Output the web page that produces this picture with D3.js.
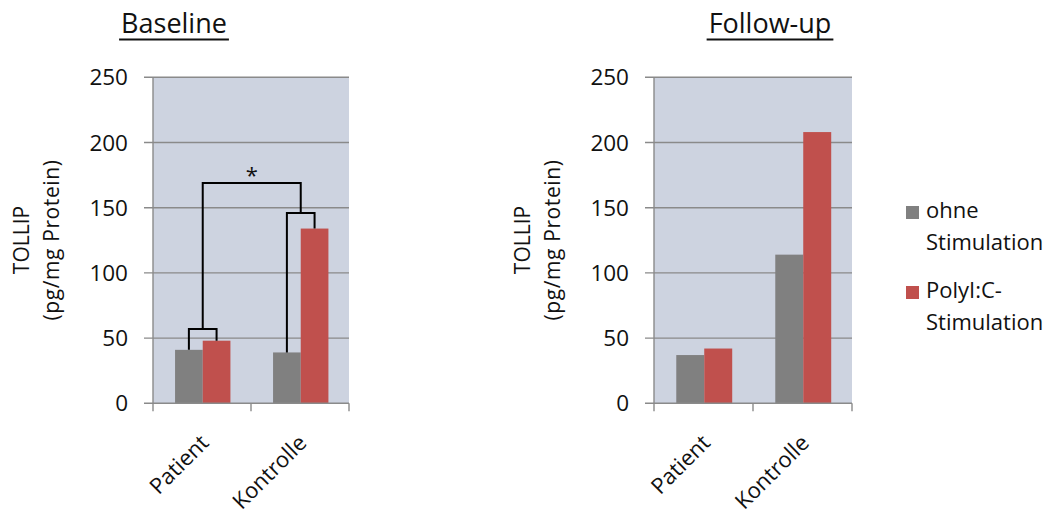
<!DOCTYPE html>
<html>
<head>
<meta charset="utf-8">
<script src="https://cdn.jsdelivr.net/npm/d3@7"></script>
<style>
  html, body { margin: 0; padding: 0; background: #ffffff; }
  svg { display: block; }
  text { font-family: "Open Sans", "Liberation Sans", sans-serif; fill: #111; }
</style>
</head>
<body>
<svg id="chart" width="1047" height="518"></svg>
<script>
// TOLLIP concentration (pg/mg protein), without and with PolyI:C stimulation
const categories = ["Patient", "Kontrolle"];
const seriesNames = ["ohne Stimulation", "PolyI:C-Stimulation"];
const legendLines = [["ohne", "Stimulation"], ["PolyI:C-", "Stimulation"]];
const baselineOhne = [41, 39];
const baselinePolyIC = [48, 134];
const followupOhne = [37, 114];
const followupPolyIC = [42, 208];
const yTicks = [0, 50, 100, 150, 200, 250];
const panelTitles = ["Baseline", "Follow-up"];
// significance bracket heights (value units) for the baseline panel
const bracketPatient = 57;
const bracketKontrolle = 146;
const bracketBetween = 169;
const significanceLabel = "*";

const colors = ["#808080", "#c0504d"];
const plotBg = "#cdd3e0";
const gridColor = "#8a8a8a";

const svg = d3.select("#chart");

const panels = [
  { title: panelTitles[0], values: [baselineOhne, baselinePolyIC], x0: 153, x1: 349, titleX: 174, yLabelX: 0, brackets: true },
  { title: panelTitles[1], values: [followupOhne, followupPolyIC], x0: 654, x1: 852, titleX: 770, yLabelX: 501, brackets: false }
];

const y = d3.scaleLinear().domain([0, 250]).range([403.3, 77.3]);

panels.forEach(p => {
  const g = svg.append("g");

  // plot area background
  g.append("rect")
    .attr("x", p.x0).attr("y", y(250))
    .attr("width", p.x1 - p.x0).attr("height", y(0) - y(250))
    .attr("fill", plotBg);

  // horizontal gridlines (with outside tick stubs)
  g.selectAll("line.grid").data(yTicks.filter(t => t > 0)).join("line")
    .attr("x1", p.x0 - 9).attr("x2", p.x1)
    .attr("y1", d => y(d)).attr("y2", d => y(d))
    .attr("stroke", gridColor).attr("stroke-width", 1.4);

  const x = d3.scaleBand().domain(categories).range([p.x0, p.x1]).padding(0);
  const inner = d3.scaleBand().domain(d3.range(seriesNames.length))
    .range([x.bandwidth() * 0.225, x.bandwidth() * 0.79]).padding(0);

  // bars
  categories.forEach((c, ci) => {
    p.values.forEach((vals, si) => {
      g.append("rect")
        .attr("x", x(c) + inner(si))
        .attr("y", y(vals[ci]))
        .attr("width", inner.bandwidth())
        .attr("height", y(0) - y(vals[ci]))
        .attr("fill", colors[si]);
    });
  });

  // y axis line
  g.append("line")
    .attr("x1", p.x0).attr("x2", p.x0)
    .attr("y1", y(250)).attr("y2", y(0))
    .attr("stroke", gridColor).attr("stroke-width", 1.4);
  // x axis line
  g.append("line")
    .attr("x1", p.x0 - 9).attr("x2", p.x1)
    .attr("y1", y(0)).attr("y2", y(0))
    .attr("stroke", gridColor).attr("stroke-width", 1.4);
  // category boundary ticks
  const bounds = categories.map(c => x(c)).concat([p.x1]);
  g.selectAll("line.xt").data(bounds).join("line")
    .attr("x1", d => d).attr("x2", d => d)
    .attr("y1", y(0)).attr("y2", y(0) + 8)
    .attr("stroke", gridColor).attr("stroke-width", 1.4);

  // y tick labels
  g.selectAll("text.yt").data(yTicks).join("text")
    .attr("x", p.x0 - 25).attr("y", d => y(d) + 8)
    .attr("text-anchor", "end")
    .attr("font-size", 22.5)
    .text(d => d);

  // category labels
  categories.forEach(c => {
    const cx = x(c) + x.bandwidth() / 2;
    g.append("text")
      .attr("transform", `translate(${cx + 8},${y(0) + 41}) rotate(-45)`)
      .attr("text-anchor", "end")
      .attr("font-size", 22)
      .text(c);
  });

  // y axis title (two lines)
  const yl = g.append("g").attr("transform", `translate(${p.yLabelX},240) rotate(-90)`);
  yl.append("text").attr("x", 0).attr("y", 29).attr("text-anchor", "middle")
    .attr("font-size", 21).text("TOLLIP");
  yl.append("text").attr("x", 0).attr("y", 59).attr("text-anchor", "middle")
    .attr("font-size", 21).attr("letter-spacing", 0.6).text("(pg/mg Protein)");

  // panel title, underlined
  const t = g.append("text")
    .attr("x", p.titleX).attr("y", 33)
    .attr("text-anchor", "middle")
    .attr("font-size", 27)
    .text(p.title);
  const tw = t.node().getComputedTextLength();
  g.append("line")
    .attr("x1", p.titleX - tw / 2 - 2).attr("x2", p.titleX + tw / 2 + 2)
    .attr("y1", 39.5).attr("y2", 39.5)
    .attr("stroke", "#111").attr("stroke-width", 2);

  // significance brackets
  if (p.brackets) {
    const barCenter = (ci, si) => x(categories[ci]) + inner(si) + inner.bandwidth() / 2;
    const path = d3.path();
    // Patient: ohne vs PolyI:C
    const pL = barCenter(0, 0), pR = barCenter(0, 1);
    path.moveTo(pL, y(p.values[0][0])); path.lineTo(pL, y(bracketPatient));
    path.lineTo(pR, y(bracketPatient)); path.lineTo(pR, y(p.values[1][0]));
    // Kontrolle: ohne vs PolyI:C
    const kL = barCenter(1, 0), kR = barCenter(1, 1);
    path.moveTo(kL, y(p.values[0][1])); path.lineTo(kL, y(bracketKontrolle));
    path.lineTo(kR, y(bracketKontrolle)); path.lineTo(kR, y(p.values[1][1]));
    // between the two groups
    const mP = (pL + pR) / 2, mK = (kL + kR) / 2;
    path.moveTo(mP, y(bracketPatient)); path.lineTo(mP, y(bracketBetween));
    path.lineTo(mK, y(bracketBetween)); path.lineTo(mK, y(bracketKontrolle));
    g.append("path").attr("d", path.toString())
      .attr("fill", "none").attr("stroke", "#000").attr("stroke-width", 2);
    g.append("text")
      .attr("x", (mP + mK) / 2).attr("y", y(bracketBetween))
      .attr("text-anchor", "middle")
      .attr("font-size", 22)
      .text(significanceLabel);
  }
});

// legend
const legend = svg.append("g");
legendLines.forEach((lines, i) => {
  const top = 206 + i * 80;
  legend.append("rect")
    .attr("x", 906).attr("y", top).attr("width", 13).attr("height", 13)
    .attr("fill", colors[i]);
  lines.forEach((ln, li) => {
    legend.append("text")
      .attr("x", 926).attr("y", top + 12 + li * 32)
      .attr("font-size", 22)
      .text(ln);
  });
});
</script>
</body>
</html>
